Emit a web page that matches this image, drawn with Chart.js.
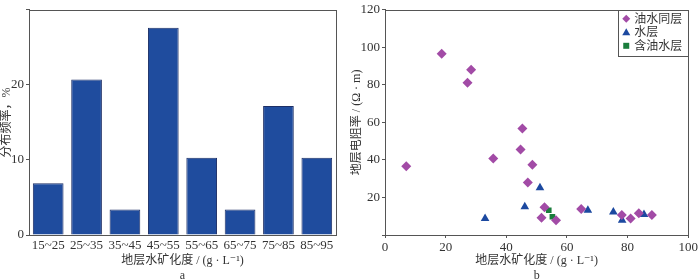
<!DOCTYPE html>
<html>
<head>
<meta charset="utf-8">
<script src="https://cdn.jsdelivr.net/npm/chart.js@4"></script>
<style>
  body { margin: 0; background: #fff; }
  .wrap { display: flex; width: 700px; height: 280px; }
  .box { position: relative; width: 350px; height: 280px; }
</style>
</head>
<body>
<div class="wrap">
  <div class="box"><canvas id="chartA" width="350" height="280"></canvas></div>
  <div class="box"><canvas id="chartB" width="350" height="280"></canvas></div>
</div>
<script>
// a: frequency distribution
const bins = ['15~25', '25~35', '35~45', '45~55', '55~65', '65~75', '75~85', '85~95'];
const freq = [6.9, 20.7, 3.4, 27.6, 10.3, 3.4, 17.2, 10.3];

// b: salinity vs resistivity
const oilWaterX = [7.0, 18.7, 27.2, 28.4, 35.7, 45.3, 44.7, 48.6, 47.1, 52.6, 51.6, 56.4, 64.7, 78.1, 81.0, 83.7, 88.0];
const oilWaterY = [36.7, 96.6, 81.1, 88.1, 40.7, 56.7, 45.6, 37.5, 28.0, 14.8, 9.2, 7.8, 13.9, 10.6, 8.8, 11.6, 10.6];
const waterX = [33.0, 46.1, 51.1, 66.9, 75.3, 78.2, 85.4];
const waterY = [8.8, 15.0, 25.2, 13.2, 12.3, 7.9, 10.9];
const oilBearingX = [54.0, 55.2];
const oilBearingY = [13.2, 9.7];

const fontFam = '"Liberation Serif", "DejaVu Serif", "Noto Sans CJK SC", serif';
const textColor = '#333';
const axisColor = '#555';

Chart.defaults.font.family = fontFam;
Chart.defaults.color = textColor;
Chart.defaults.animation = false;

// draws the box round the plot area
const framePlugin = {
    id: 'frame',
    afterDraw(chart) {
        const a = chart.chartArea;
        const ctx = chart.ctx;
        ctx.save();
        ctx.strokeStyle = axisColor;
        ctx.lineWidth = 1;
        ctx.strokeRect(Math.round(a.left) + 0.5, Math.round(a.top) + 0.5, Math.round(a.right - a.left), Math.round(a.bottom - a.top));
        ctx.restore();
    }
};

// legend inside the top right corner of chart b
const innerLegend = {
    id: 'innerLegend',
    afterDraw(chart) {
        const a = chart.chartArea;
        const ctx = chart.ctx;
        const w = 70, h = 46;
        const x0 = a.right - w, y0 = a.top;
        ctx.save();
        ctx.fillStyle = '#fff';
        ctx.fillRect(x0, y0, w, h);
        ctx.strokeStyle = axisColor;
        ctx.strokeRect(Math.round(x0) + 0.5, Math.round(y0) + 0.5, w, h);
        chart.data.datasets.forEach((ds, i) => {
            const cy = y0 + 9 + i * 13.5;
            const cx = x0 + 8;
            ctx.fillStyle = ds.backgroundColor;
            ctx.beginPath();
            if (ds.pointStyle === 'rectRot') {
                ctx.moveTo(cx, cy - 4); ctx.lineTo(cx + 4, cy); ctx.lineTo(cx, cy + 4); ctx.lineTo(cx - 4, cy);
            } else if (ds.pointStyle === 'triangle') {
                ctx.moveTo(cx, cy - 4); ctx.lineTo(cx + 4, cy + 3); ctx.lineTo(cx - 4, cy + 3);
            } else {
                ctx.rect(cx - 3, cy - 3, 6, 6);
            }
            ctx.closePath();
            ctx.fill();
            ctx.fillStyle = textColor;
            ctx.font = '12px ' + fontFam;
            ctx.textBaseline = 'middle';
            ctx.fillText(ds.label, cx + 8, cy + 1);
        });
        ctx.restore();
    }
};

new Chart(document.getElementById('chartA'), {
    type: 'bar',
    data: {
        labels: bins,
        datasets: [{
            data: freq,
            backgroundColor: '#1f4c9e',
            borderColor: '#1d2f66',
            borderWidth: 1,
            barPercentage: 0.8,
            categoryPercentage: 1.0
        }]
    },
    options: {
        responsive: false,
        layout: { padding: { top: 8, right: 14, left: 0, bottom: 0 } },
        plugins: { legend: { display: false }, tooltip: { enabled: false } },
        scales: {
            x: {
                grid: { display: false, drawTicks: false },
                border: { color: axisColor },
                ticks: { font: { size: 13 }, padding: 3, maxRotation: 0, autoSkip: false },
                title: {
                    display: true,
                    text: ['地层水矿化度 / (g · L⁻¹)', 'a'],
                    font: { size: 12, lineHeight: 1.25 },
                    padding: { top: 0, bottom: -3 }
                },
                afterFit: (scale) => { scale.height = 45; }
            },
            y: {
                min: 0,
                max: 30,
                grid: { drawOnChartArea: false, tickLength: 3, color: axisColor },
                border: { color: axisColor },
                ticks: {
                    stepSize: 10,
                    font: { size: 13 },
                    padding: 2,
                    callback: (v) => (v === 30 ? '' : v)
                },
                title: { display: true, text: '分布频率，%', font: { size: 12 }, padding: 0 },
                afterFit: (scale) => { scale.width = 29; }
            }
        }
    },
    plugins: [framePlugin]
});

function pts(xs, ys) {
    return xs.map((x, i) => ({ x: x, y: ys[i] }));
}

new Chart(document.getElementById('chartB'), {
    type: 'scatter',
    data: {
        datasets: [
            {
                label: '油水同层',
                data: pts(oilWaterX, oilWaterY),
                pointStyle: 'rectRot',
                pointRadius: 5,
                backgroundColor: '#a24ba6',
                borderColor: '#a24ba6',
                borderWidth: 0
            },
            {
                label: '水层',
                data: pts(waterX, waterY),
                pointStyle: 'triangle',
                pointRadius: 5,
                backgroundColor: '#1c49a0',
                borderColor: '#1c49a0',
                borderWidth: 0
            },
            {
                label: '含油水层',
                data: pts(oilBearingX, oilBearingY),
                pointStyle: 'rect',
                pointRadius: 4,
                backgroundColor: '#1a7d3c',
                borderColor: '#1a7d3c',
                borderWidth: 0
            }
        ]
    },
    options: {
        responsive: false,
        layout: { padding: { top: 8, right: 9, left: 0, bottom: 0 } },
        plugins: { legend: { display: false }, tooltip: { enabled: false } },
        scales: {
            x: {
                min: 0,
                max: 100,
                grid: { drawOnChartArea: false, tickLength: 3, color: axisColor },
                border: { color: axisColor },
                ticks: { stepSize: 20, font: { size: 13 }, padding: 2, maxRotation: 0 },
                title: {
                    display: true,
                    text: ['地层水矿化度 / (g · L⁻¹)', 'b'],
                    font: { size: 12, lineHeight: 1.25 },
                    padding: { top: 0, bottom: -3 }
                },
                afterFit: (scale) => { scale.height = 45; }
            },
            y: {
                min: 0,
                max: 120,
                grid: { drawOnChartArea: false, tickLength: 3, color: axisColor },
                border: { color: axisColor },
                ticks: {
                    stepSize: 20,
                    font: { size: 13 },
                    padding: 2,
                    callback: (v) => (v === 0 ? '' : v)
                },
                title: { display: true, text: '地层电阻率 / (Ω · m)', font: { size: 12 }, padding: 0 },
                afterFit: (scale) => { scale.width = 35; }
            }
        }
    },
    plugins: [framePlugin, innerLegend]
});
</script>
</body>
</html>
